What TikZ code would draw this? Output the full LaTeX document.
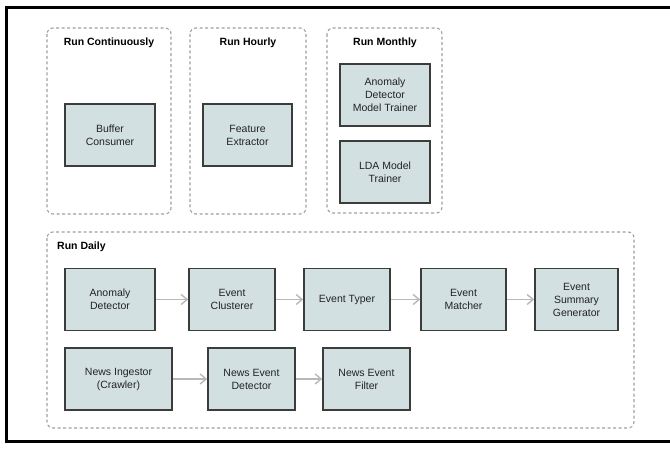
\documentclass[tikz,border=0pt]{standalone}
\usepackage{fontspec}
\setmainfont{Liberation Sans}
\usetikzlibrary{arrows.meta}
\definecolor{procfill}{HTML}{D3E0E2}
\definecolor{procedge}{HTML}{3C3C3C}
\definecolor{groupedge}{HTML}{A0A0A0}
\definecolor{flowline}{HTML}{B8B8B8}
\definecolor{labeltext}{HTML}{222222}
\begin{document}
\begin{tikzpicture}[x=1pt,y=-1pt,
  proc/.style={draw=procedge, line width=1.6pt, fill=procfill, align=center,
    inner sep=0pt, minimum height=62pt, text=labeltext,
    font=\fontsize{10.5}{13}\selectfont},
  group/.style={draw=groupedge, line width=1.1pt, dash pattern=on 3pt off 2.5pt,
    rounded corners=6pt},
  grouptitle/.style={font=\bfseries\fontsize{10.5}{13}\selectfont, text=black, inner sep=0pt},
  flow/.style={draw=flowline, line width=1.5pt,
    -{Straight Barb[length=6pt,width=10pt,line width=1.4pt]}}]
  \useasboundingbox (0,0) rectangle (670,449);

  % screenshot frame (top, left, bottom edges)
  \draw[line width=3pt, black] (670,7.5) -- (6.5,7.5) -- (6.5,441.5) -- (670,441.5);

  % schedule groups
  \draw[group] (47,28) rectangle (171,214);
  \draw[group] (190,28) rectangle (306,214);
  \draw[group] (327,28) rectangle (442,213);
  \draw[group] (47,232) rectangle (634,428);

  \node[grouptitle] (tcont) at (109,43) {Run Continuously};
  \node[grouptitle] (thour) at (248,43) {Run Hourly};
  \node[grouptitle] (tmonth) at (385,43) {Run Monthly};
  \node[grouptitle, anchor=west] (tdaily) at (57,247) {Run Daily};

  % continuous / hourly / monthly jobs
  \node[proc, minimum width=90pt] (buf) at (110,135) {Buffer\\Consumer};
  \node[proc, minimum width=89pt] (feat) at (247.5,135) {Feature\\Extractor};
  \node[proc, minimum width=90pt] (admt) at (385,95) {Anomaly\\Detector\\Model Trainer};
  \node[proc, minimum width=90pt] (lda) at (385,172) {LDA Model\\Trainer};

  % daily pipeline, first chain
  \node[proc, minimum width=90pt] (ad) at (110,299.5) {Anomaly\\Detector};
  \node[proc, minimum width=86pt] (ec) at (232,299.5) {Event\\Clusterer};
  \node[proc, minimum width=86pt] (et) at (347,299.5) {Event Typer};
  \node[proc, minimum width=85pt] (em) at (463.5,299.5) {Event\\Matcher};
  \node[proc, minimum width=83pt] (esg) at (576.5,299.5) {Event\\Summary\\Generator};

  % daily pipeline, news chain
  \node[proc, minimum width=107pt] (ni) at (118.5,379) {News Ingestor\\(Crawler)};
  \node[proc, minimum width=87pt] (ned) at (251.5,379) {News Event\\Detector};
  \node[proc, minimum width=87pt] (nef) at (366.5,379) {News Event\\Filter};

  \draw[flow] (ad) -- (ec);
  \draw[flow] (ec) -- (et);
  \draw[flow] (et) -- (em);
  \draw[flow] (em) -- (esg);
  \draw[flow] (ni) -- (ned);
  \draw[flow] (ned) -- (nef);
\end{tikzpicture}
\end{document}
